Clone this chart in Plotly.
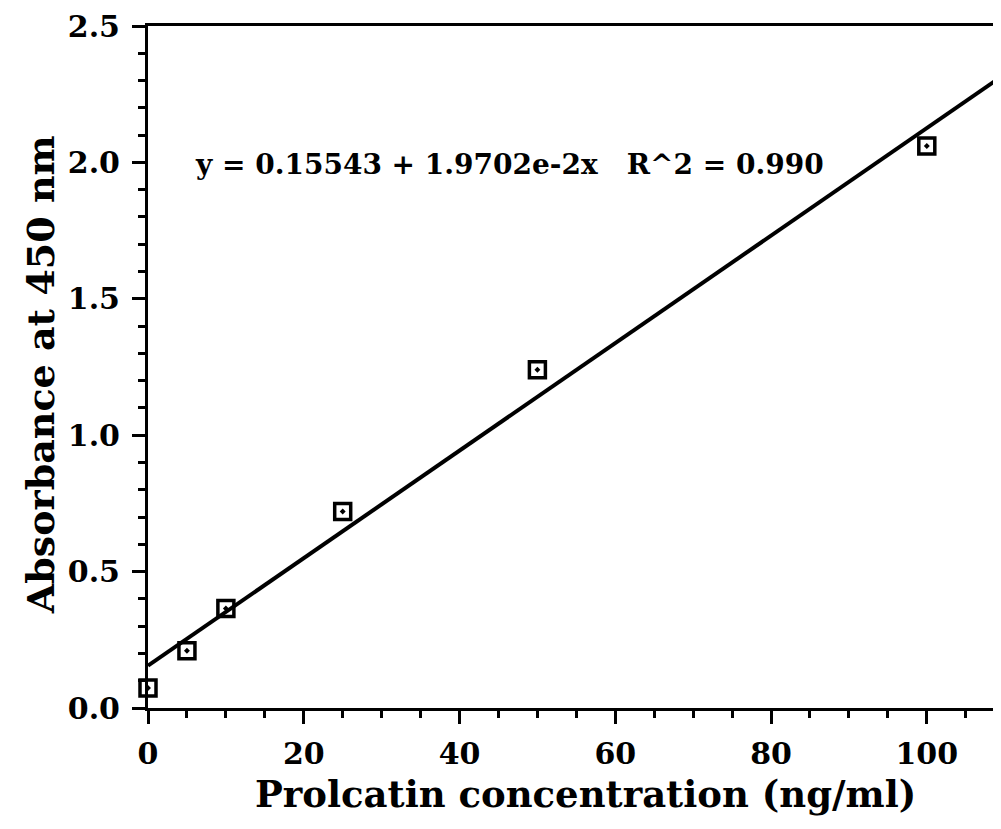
import plotly.graph_objects as go

conc = [0, 5, 10, 25, 50, 100]
absorb = [0.073, 0.21, 0.365, 0.72, 1.24, 2.06]
intercept = 0.15543
slope = 1.9702e-2
fit_x = [0, 110]
fit_y = [intercept + slope * x for x in fit_x]

x_ticks = [0, 20, 40, 60, 80, 100]
y_ticks = [0.0, 0.5, 1.0, 1.5, 2.0, 2.5]

FONT = "DejaVu Serif"

fig = go.Figure()
fig.add_trace(go.Scatter(x=fit_x, y=fit_y, mode="lines",
                         line=dict(color="black", width=4), showlegend=False))
fig.add_trace(go.Scatter(x=conc, y=absorb, mode="markers",
                         marker=dict(symbol="square-open-dot", size=16, color="black",
                                     line=dict(width=3.5, color="black")),
                         showlegend=False, cliponaxis=False))

fig.add_annotation(x=0.053, y=0.797, xref="paper", yref="paper", xanchor="left", yanchor="middle",
                   text="<b>y = 0.15543 + 1.9702e-2x&nbsp;&nbsp;&nbsp;R^2 = 0.990</b>", showarrow=False,
                   font=dict(family=FONT, size=28, color="black"))
fig.add_annotation(x=0.518, y=0, yshift=-86, xref="paper", yref="paper", xanchor="center", yanchor="middle",
                   text="<b>Prolcatin concentration (ng/ml)</b>", showarrow=False,
                   font=dict(family=FONT, size=37, color="black"))
fig.add_annotation(x=0, xshift=-108, y=0.488, xref="paper", yref="paper", xanchor="center", yanchor="middle",
                   text="<b>Absorbance at 450 nm</b>", showarrow=False, textangle=-90,
                   font=dict(family=FONT, size=38, color="black"))

fig.update_layout(
    width=985, height=813,
    margin=dict(l=140, r=0, t=12, b=113),
    paper_bgcolor="white", plot_bgcolor="white",
    font=dict(family=FONT, color="black"),
)
fig.update_xaxes(range=[0, 108.5], tickvals=x_ticks,
                 ticks="outside", ticklen=13, tickwidth=3, tickcolor="black",
                 minor=dict(dtick=5, tick0=0, ticks="outside", ticklen=7, tickwidth=3, tickcolor="black"),
                 showline=True, linewidth=3, linecolor="black", mirror=True,
                 showgrid=False, zeroline=False, ticklabelstandoff=4, ticklabeloverflow="allow",
                 tickfont=dict(family=FONT, size=30, weight="bold"))
fig.update_yaxes(range=[0, 2.5], tickvals=y_ticks, tickformat=".1f",
                 ticks="outside", ticklen=13, tickwidth=3, tickcolor="black",
                 minor=dict(dtick=0.1, tick0=0, ticks="outside", ticklen=7, tickwidth=3, tickcolor="black"),
                 showline=True, linewidth=3, linecolor="black", mirror=False,
                 showgrid=False, zeroline=False, ticklabelstandoff=6, ticklabeloverflow="allow",
                 tickfont=dict(family=FONT, size=30, weight="bold"))

fig.write_html("out.html")
